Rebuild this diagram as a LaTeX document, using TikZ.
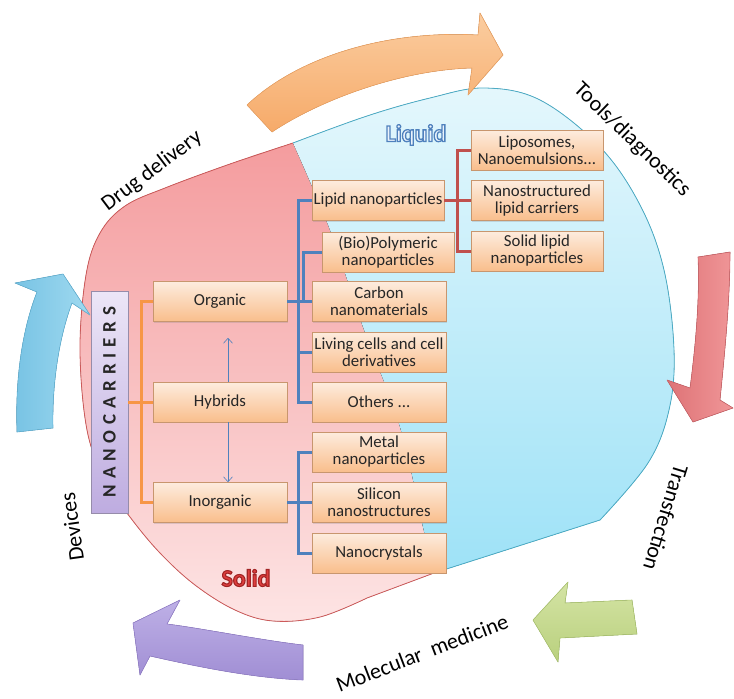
\documentclass[tikz,border=0pt]{standalone}
\usepackage{fontspec}
\setmainfont{Carlito}
\usetikzlibrary{shadows,arrows.meta}
\definecolor{boxborder}{RGB}{200,150,110}
\definecolor{boxtop}{RGB}{253,236,222}
\definecolor{boxbot}{RGB}{249,190,140}
\definecolor{orangeline}{RGB}{247,150,70}
\definecolor{blueline}{RGB}{79,129,189}
\definecolor{redline}{RGB}{192,80,77}
\definecolor{pinktop}{RGB}{244,156,158}
\definecolor{pinkbot}{RGB}{253,228,228}
\definecolor{pinkedge}{RGB}{205,90,90}
\definecolor{cyantop}{RGB}{228,247,252}
\definecolor{cyanbot}{RGB}{158,226,247}
\definecolor{cyanedge}{RGB}{75,172,198}
\definecolor{nanotop}{RGB}{236,230,247}
\definecolor{nanobot}{RGB}{190,172,224}
\definecolor{nanoedge}{RGB}{150,140,170}
\definecolor{liqfill}{RGB}{235,243,252}
\definecolor{solidfill}{RGB}{222,62,62}
\begin{document}
\begin{tikzpicture}[x=1pt,y=-1pt,
  nbox/.style={draw=boxborder, line width=0.6pt, top color=boxtop, bottom color=boxbot,
    minimum width=134pt, minimum height=40pt, inner sep=1pt, align=center, text=black!85,
    font=\fontsize{16.8}{17}\selectfont,
    drop shadow={opacity=0.25,shadow xshift=1.2pt,shadow yshift=-1.2pt}},
  oline/.style={draw=orangeline, line width=3pt},
  bline/.style={draw=blueline, line width=3pt},
  rline/.style={draw=redline, line width=3pt},
  thinarrow/.style={draw=blueline, line width=0.6pt, -{Straight Barb[length=5pt,width=9pt]}},
  lab/.style={font=\fontsize{22}{26}\selectfont, text=black, inner sep=0pt},
  big/.style={font=\fontsize{24}{28}\selectfont\bfseries, inner sep=0pt},
  barrow/.style={line width=0.6pt, line join=round}
]
\useasboundingbox (0,0) rectangle (734,699);

% ---- pink (solid) region
\fill[top color=pinktop, bottom color=pinkbot]
  plot[smooth, tension=0.6] coordinates {(293,143)(230,164)(165,188)(125,206)(100,233)(86,275)(80,350)(87,430)(105,480)(130,517)(160,553)(195,585)(235,610)(273,621)(320,617)(367,598)}
  -- (434,573)
  -- plot[smooth, tension=0.6] coordinates {(434,573)(423,527)(400,427)(363,327)(330,230)(293,143)} -- cycle;
\draw[pinkedge, line width=0.8pt]
  plot[smooth, tension=0.6] coordinates {(293,143)(230,164)(165,188)(125,206)(100,233)(86,275)(80,350)(87,430)(105,480)(130,517)(160,553)(195,585)(235,610)(273,621)(320,617)(367,598)}
  -- (434,573);

% ---- cyan (liquid) region
\fill[top color=cyantop, bottom color=cyanbot]
  plot[smooth, tension=0.6] coordinates {(293,143)(367,116)(430,98)(484,88)(540,100)(600,147)(640,205)(664,270)(674,350)(669,410)(648,463)(600,520)}
  -- (434,573)
  -- plot[smooth, tension=0.6] coordinates {(434,573)(423,527)(400,427)(363,327)(330,230)(293,143)} -- cycle;
\draw[cyanedge, line width=0.8pt]
  plot[smooth, tension=0.6] coordinates {(293,143)(367,116)(430,98)(484,88)(540,100)(600,147)(640,205)(664,270)(674,350)(669,410)(648,463)(600,520)}
  -- (434,573);

% ---- block arrows
\filldraw[barrow, draw={rgb,255:red,240;green,165;blue,100}, top color={rgb,255:red,251;green,205;blue,160}, bottom color={rgb,255:red,246;green,170;blue,105}]
  (272,132) .. controls (320,100) and (400,70) .. (472,68) -- (468,95) -- (503,55) -- (480,13) -- (478,35)
  .. controls (390,30) and (300,55) .. (247,105) -- cycle;
\filldraw[barrow, draw={rgb,255:red,205;green,100;blue,105}, left color={rgb,255:red,222;green,115;blue,118}, right color={rgb,255:red,240;green,150;blue,152}]
  (698,257) .. controls (700,300) and (695,350) .. (690,388) -- (667,380) -- (693,422) -- (733,408) -- (720,400)
  .. controls (725,350) and (730,300) .. (730,252) -- cycle;
\filldraw[barrow, draw={rgb,255:red,175;green,200;blue,115}, top color={rgb,255:red,212;green,228;blue,165}, bottom color={rgb,255:red,185;green,208;blue,125}]
  (632,600) -- (565,603) -- (568,582) -- (533,620) -- (558,662) -- (560,638) -- (637,634) -- cycle;
\filldraw[barrow, draw={rgb,255:red,150;green,130;blue,205}, top color={rgb,255:red,190;green,176;blue,230}, bottom color={rgb,255:red,160;green,142;blue,212}]
  (303,645) .. controls (260,640) and (200,628) .. (167,624) -- (180,600) -- (133,623) -- (140,675) -- (150,656)
  .. controls (190,665) and (250,678) .. (303,680) -- cycle;
\filldraw[barrow, draw={rgb,255:red,100;green,180;blue,215}, left color={rgb,255:red,120;green,195;blue,228}, right color={rgb,255:red,160;green,218;blue,240}]
  (17,432) .. controls (15,380) and (22,330) .. (37,292) -- (15,283) -- (63,274) -- (90,315) -- (72,303)
  .. controls (60,335) and (52,380) .. (53,428) -- cycle;

% ---- nodes
\node[draw=nanoedge, line width=0.6pt, top color=nanotop, bottom color=nanobot, minimum width=37pt, minimum height=222pt,
  inner sep=0pt, drop shadow={opacity=0.25,shadow xshift=1.2pt,shadow yshift=-1.2pt}] (nano) at (109.5,402) {};
\node[rotate=90, font=\fontsize{19}{22}\selectfont\bfseries, text=black!85, inner sep=0pt] (nanotxt) at (nano.center)
  {N\kern5.8pt A\kern5.8pt N\kern5.8pt O\kern5.8pt C\kern5.8pt A\kern5.8pt R\kern5.8pt R\kern5.8pt I\kern5.8pt E\kern5.8pt R\kern5.8pt S};

\node[nbox] (org) at (220,301.5) {Organic};
\node[nbox] (hyb) at (220,402) {Hybrids};
\node[nbox] (inorg) at (220,502.5) {Inorganic};

\node[nbox, minimum width=132pt] (lipid) at (378,200.5) {Lipid nanoparticles};
\node[nbox, minimum width=132pt] (poly) at (388,252) {(Bio)Polymeric\\nanoparticles};
\node[nbox] (carbon) at (379,301.5) {Carbon\\nanomaterials};
\node[nbox] (living) at (379,352) {Living cells and cell\\derivatives};
\node[nbox] (others) at (379,402) {Others ...};
\node[nbox] (metal) at (379,452) {Metal\\nanoparticles};
\node[nbox] (silicon) at (379,502.5) {Silicon\\nanostructures};
\node[nbox] (nanocr) at (379,553) {Nanocrystals};

\node[nbox, minimum width=132pt] (lipo) at (537,150) {Liposomes,\\Nanoemulsions...};
\node[nbox, minimum width=132pt] (nlc) at (537,200.5) {Nanostructured\\lipid carriers};
\node[nbox, minimum width=132pt] (sln) at (537,251) {Solid lipid\\nanoparticles};

% ---- connectors
\coordinate (oj) at (141,402);
\draw[oline] (org.west) -| (oj) |- (inorg.west);
\draw[oline] (nano.east) -- (hyb.west);

\coordinate (bj) at (298,402);
\coordinate (bk) at (303,301.5);
\draw[bline] (lipid.west) -| (bj) -- (others.west);
\draw[bline] (living.west) -- (living.west -| bj);
\draw[bline] (org.east) -- (carbon.west);
\draw[bline] (poly.west) -| (bk);
\coordinate (bi) at (298,553);
\draw[bline] (metal.west) -| (bi) -- (nanocr.west);
\draw[bline] (inorg.east) -- (silicon.west);

\coordinate (rj) at (457,251);
\draw[rline] (lipid.east) -- (lipid.east -| rj);
\draw[rline] (lipo.west) -| (rj) -- (sln.west);
\draw[rline] (nlc.west) -- (nlc.west -| rj);

\draw[thinarrow] ([xshift=8pt]hyb.north) -- ([xshift=8pt,yshift=-16pt]org.south);
\draw[thinarrow] ([xshift=8pt]hyb.south) -- ([xshift=8pt]inorg.north);

% ---- outlined titles (fill + stroke text rendering)
\node[big, text=liqfill] (liq) at (416,135)
  {\special{pdf:literal direct 2 Tr 1.3 w 0.31 0.506 0.741 RG}Liquid\special{pdf:literal direct 0 Tr}};
\node[big, text=solidfill] (sol) at (246,578)
  {\special{pdf:literal direct 2 Tr 1.1 w 0.63 0.14 0.14 RG}Solid\special{pdf:literal direct 0 Tr}};

% ---- application labels
\node[lab, rotate=37] (dd) at (152,171) {Drug delivery};
\node[lab, rotate=-44] (td) at (632,140) {Tools/diagnostics};
\node[lab, rotate=-107] (tf) at (666,518) {Transfection};
\node[lab, rotate=21] (mm) at (422,653) {Molecular\hspace{0.45em}medicine};
\node[lab, rotate=98] (dv) at (72,527) {Devices};
\end{tikzpicture}
\end{document}
